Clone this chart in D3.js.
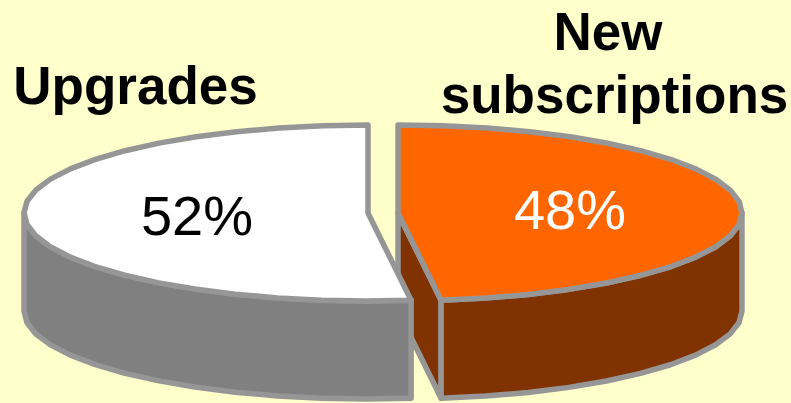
<!DOCTYPE html>
<html>
<head>
<meta charset="utf-8">
<script src="https://cdnjs.cloudflare.com/ajax/libs/d3/7.8.5/d3.min.js"></script>
<style>
html,body{margin:0;padding:0;background:#ffffcc;overflow:hidden}
svg{display:block}
text{font-family:"Liberation Sans",Arial,sans-serif}
</style>
</head>
<body>
<script>
// Share of revenue by source
const categories = ["New subscriptions", "Upgrades"];
const shares = [48, 52];
const shareLabels = ["48%", "52%"];
const titleLines = [["New", "subscriptions"], ["Upgrades"]];
const topColors = ["#ff6600", "#ffffff"];
const wallColors = ["#803300", "#808080"];
const labelColors = ["#ffffff", "#000000"];

const width = 791, height = 403;
const rim = "#969696";
const depth = 98;
const radiusX = d3.scaleLinear().domain([-1, 1]).range([-344, 344]);
const radiusY = d3.scaleLinear().domain([-1, 1]).range([-88, 88]);
const centers = [{x: 398, y: 213}, {x: 368, y: 213}];
const titlePos = [[{x: 608, y: 50}, {x: 614.5, y: 113}], [{x: 135.5, y: 104}]];
const labelPos = [{x: 570, y: 229}, {x: 197, y: 235}];

const svg = d3.select("body").append("svg").attr("width", width).attr("height", height);
svg.append("rect").attr("width", width).attr("height", height).attr("fill", "#ffffcc");

const arcs = d3.pie().sort(null).value(d => d)(shares);
const line = d3.line().curve(d3.curveLinear);

// Flattened disc: angle 0 is the top of the ellipse, running clockwise
function project(c, a, drop = 0) {
  return [c.x + radiusX(Math.sin(a)), c.y + radiusY(-Math.cos(a)) + drop];
}
function rimPoints(c, a0, a1, drop = 0) {
  const step = (a1 - a0) / Math.max(1, Math.round((a1 - a0) / (Math.PI / 24)));
  return d3.range(a0, a1 + step / 2, step).map(a => project(c, a, drop));
}
const style = sel => sel.attr("stroke", rim).attr("stroke-width", 5.5).attr("stroke-linejoin", "round");

arcs.forEach((arc, i) => {
  const c = centers[i];
  const g = svg.append("g").attr("class", "slice").attr("data-category", categories[i]);

  // Curved outer wall, only the front half of the disc is visible
  const a0 = Math.max(arc.startAngle, Math.PI / 2);
  const a1 = Math.min(arc.endAngle, 3 * Math.PI / 2);
  const front = rimPoints(c, a0, a1);
  const frontLow = rimPoints(c, a0, a1, depth).reverse();

  // Cut face of the slice that turns toward the viewer
  if (i === 0) {
    const e = project(c, arc.endAngle);
    const apex = [c.x, c.y];
    g.append("path")
      .attr("d", line([apex, e, [e[0], e[1] + depth], [apex[0], apex[1] + depth]]) + "Z")
      .attr("fill", wallColors[i]).call(style);
  }
  g.append("path").attr("d", line(front.concat(frontLow)) + "Z")
    .attr("fill", wallColors[i]).call(style);

  // Top face
  g.append("path")
    .attr("d", line([[c.x, c.y]].concat(rimPoints(c, arc.startAngle, arc.endAngle))) + "Z")
    .attr("fill", topColors[i]).call(style);

  g.append("text")
    .attr("x", labelPos[i].x).attr("y", labelPos[i].y)
    .attr("text-anchor", "middle").attr("font-size", 56)
    .attr("fill", labelColors[i]).text(shareLabels[i]);
});

titleLines.forEach((lines, i) => {
  lines.forEach((t, j) => {
    svg.append("text")
      .attr("x", titlePos[i][j].x).attr("y", titlePos[i][j].y)
      .attr("text-anchor", "middle").attr("font-size", 53)
      .attr("font-weight", "bold").attr("fill", "#000").text(t);
  });
});
</script>
</body>
</html>
